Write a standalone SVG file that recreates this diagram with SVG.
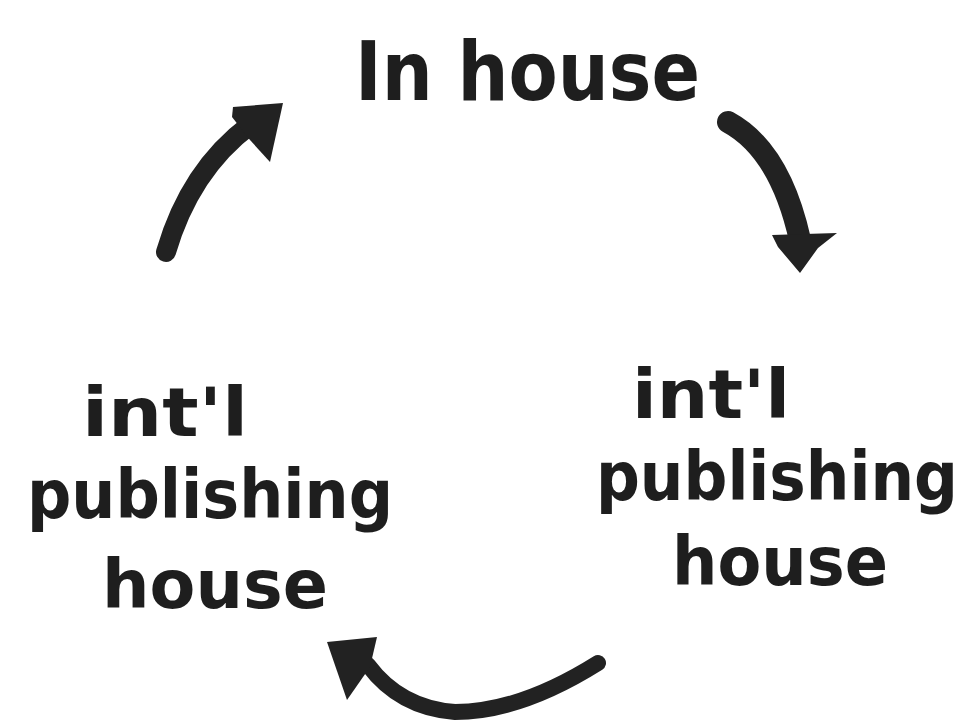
<svg xmlns="http://www.w3.org/2000/svg" width="975" height="722" viewBox="0 0 975 722">
<style>
.t{font-family:"DejaVu Sans Condensed","DejaVu Sans","Liberation Sans",sans-serif;font-weight:bold;fill:#1e1e1e;font-size:68px;}
.big{font-size:82px;}
.s{fill:none;stroke:#222;stroke-linecap:round;}
.h{fill:#222;}
</style>
<rect width="975" height="722" fill="#fff"/>
<g id="node-inhouse"><text class="t big" x="355" y="100" textLength="345" lengthAdjust="spacingAndGlyphs">In house</text></g>
<g id="node-right">
<text class="t" x="632" y="418" textLength="158" lengthAdjust="spacingAndGlyphs">int'l</text>
<text class="t" x="596" y="500" textLength="362" lengthAdjust="spacingAndGlyphs">publishing</text>
<text class="t" x="672" y="585" textLength="216" lengthAdjust="spacingAndGlyphs">house</text>
</g>
<g id="node-left">
<text class="t" x="82" y="436" textLength="166" lengthAdjust="spacingAndGlyphs">int'l</text>
<text class="t" x="27" y="518" textLength="366" lengthAdjust="spacingAndGlyphs">publishing</text>
<text class="t" x="102" y="608" textLength="226" lengthAdjust="spacingAndGlyphs">house</text>
</g>
<g id="connectors">
<path class="s" stroke-width="22" d="M728,122 Q780,150 800,240"/>
<polygon class="h" points="772,235 837,233 818,248 800,273 778,247"/>
<path class="s" stroke-width="16" d="M598,663 Q520,712 455,712 Q400,708 368,665"/>
<polygon class="h" points="327,642 377,637 370,667 347,700"/>
<path class="s" stroke-width="20" d="M166,252 Q190,170 250,125"/>
<polygon class="h" points="233,107 283,103 270,162 250,140 232,117"/>
</g>
</svg>
